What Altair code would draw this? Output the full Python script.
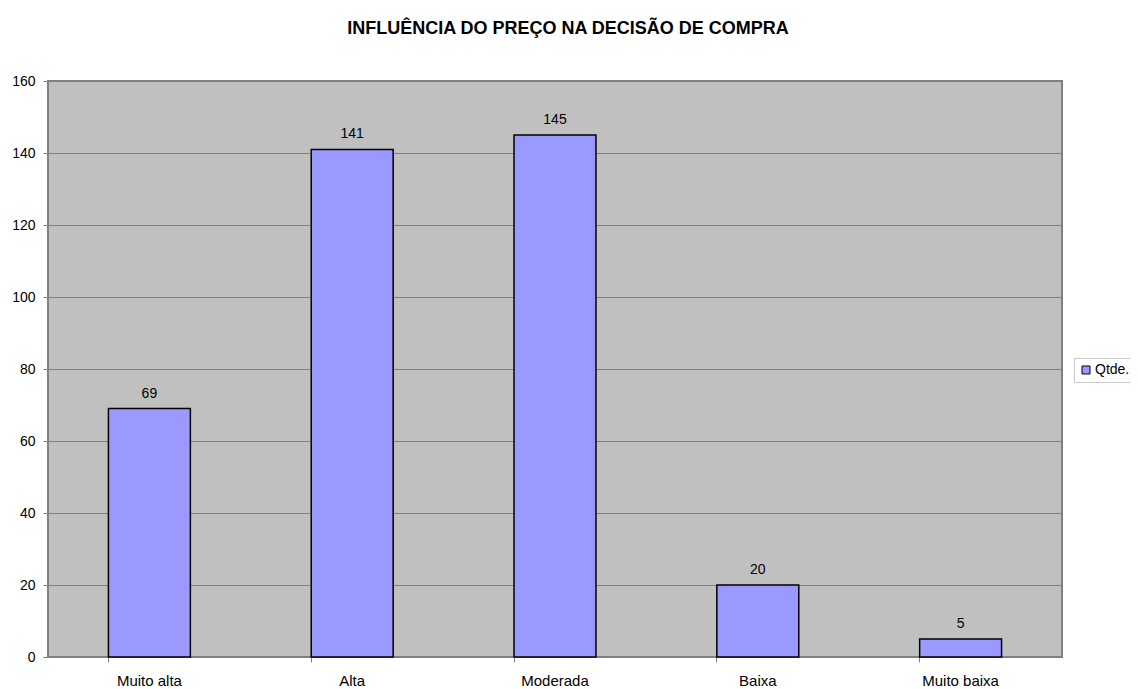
import altair as alt
import pandas as pd

categories = ["Muito alta", "Alta", "Moderada", "Baixa", "Muito baixa"]
values = [69, 141, 145, 20, 5]
series = ["Qtde."] * len(categories)
title_text = "INFLUÊNCIA DO PREÇO NA DECISÃO DE COMPRA"

df = pd.DataFrame({"cat": categories, "val": values, "series": series})

FONT = "Liberation Sans"

x = alt.X(
    "cat:N",
    sort=categories,
    scale=alt.Scale(paddingInner=0.596, paddingOuter=0.298),
    axis=alt.Axis(
        title=None,
        labelAngle=0,
        bandPosition=0,
        domain=False,
        ticks=True,
        tickColor="#808080",
        tickSize=5,
        labelPadding=11,
        labelFont=FONT,
        labelFontSize=15,
        labelColor="#000000",
    ),
)
y = alt.Y(
    "val:Q",
    scale=alt.Scale(domain=[0, 160]),
    axis=alt.Axis(
        title=None,
        values=[0, 20, 40, 60, 80, 100, 120, 140, 160],
        grid=True,
        gridColor="#808080",
        gridWidth=1,
        domain=False,
        tickColor="#808080",
        tickSize=5,
        labelPadding=8,
        labelFont=FONT,
        labelFontSize=14,
        labelColor="#000000",
    ),
)

bars = alt.Chart(df).mark_bar(stroke="#000000", strokeWidth=1.5).encode(
    x=x,
    y=y,
    color=alt.Color(
        "series:N",
        scale=alt.Scale(range=["#9999FF"]),
        legend=alt.Legend(
            title=None,
            orient="none",
            legendX=1026,
            legendY=277,
            symbolType="square",
            symbolSize=64,
            symbolStrokeColor="#000000",
            symbolStrokeWidth=1,
            labelFont=FONT,
            labelFontSize=14,
            labelColor="#000000",
            fillColor="#FFFFFF",
            strokeColor="#C8C8C8",
            padding=5,
            labelOffset=2,
        ),
    ),
)

labels = alt.Chart(df).mark_text(
    font=FONT, fontSize=14, color="#000000", baseline="alphabetic", dy=-11
).encode(x=alt.X("cat:N", sort=categories), y="val:Q", text="val:Q")

chart = (
    alt.layer(bars, labels)
    .properties(
        width=1014,
        height=576,
        autosize=alt.AutoSizeParams(type="none"),
        padding={"left": 40, "top": 73, "right": 68, "bottom": 40},
        title=alt.TitleParams(
            title_text,
            font=FONT,
            fontSize=18,
            fontWeight="bold",
            color="#000000",
            anchor="middle",
            dx=13,
            offset=36,
        ),
        background="#FFFFFF",
    )
    .configure_view(fill="#C0C0C0", stroke="#808080", strokeWidth=2)
)

chart.save("out.html", embed_options={"renderer": "svg", "actions": False})
